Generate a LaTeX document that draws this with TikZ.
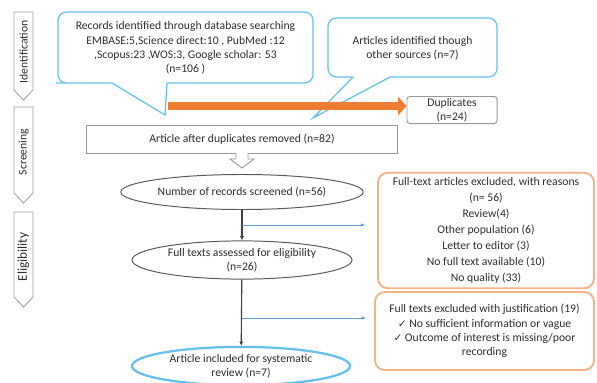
\documentclass[tikz,border=0pt]{standalone}
\usepackage{fontspec}
\setmainfont{Carlito}
\newfontfamily\symfont{DejaVu Sans}
\usetikzlibrary{arrows.meta,shapes.geometric}
\definecolor{calloutblue}{RGB}{100,192,236}
\definecolor{dupsorange}{RGB}{237,125,49}
\definecolor{exclorange}{RGB}{244,177,131}
\definecolor{linkblue}{RGB}{91,155,213}
\definecolor{txtgray}{RGB}{45,45,45}
\newcommand{\tick}{{\symfont\fontsize{7.5}{9}\selectfont\char"2713}}
\begin{document}
\begin{tikzpicture}[x=0.025cm,y=-0.025cm,
  font=\fontsize{8.3}{10.3}\selectfont, text=txtgray,
  phase/.style={draw=gray!75,fill=white,line width=0.6pt},
  oval/.style={ellipse,draw=black!65,line width=0.7pt,minimum width=5.5cm,minimum height=0.9cm,align=center,inner sep=1pt},
  excl/.style={draw=exclorange,line width=1.3pt,rounded corners=7pt,align=center},
  flow/.style={-{Latex[length=3pt,width=3pt]},line width=0.8pt,draw=black!75},
  aside/.style={-{Latex[length=3pt,width=2.5pt]},draw=linkblue,line width=0.5pt}]

\useasboundingbox (0,0) rectangle (597,382);

\draw[phase] (14,12) -- (33,12) -- (33,90) -- (23.5,100) -- (14,90) -- cycle;
\draw[phase] (14,107) -- (33,107) -- (33,193) -- (23.5,203) -- (14,193) -- cycle;
\draw[phase] (14,212) -- (33,212) -- (33,297) -- (23.5,307) -- (14,297) -- cycle;
\node[rotate=90] (ident) at (23.5,52) {Identification};
\node[rotate=90] (screen) at (23.5,152) {Screening};
\node[rotate=90,font=\fontsize{9.5}{11}\selectfont] (elig) at (23.5,257) {Eligibility};

\draw[calloutblue,line width=0.9pt,rounded corners=6pt]
  (112,83) -- (64,83) -- (58,83) -- (58,12) -- (313,12) -- (313,83) -- (167,83);
\draw[calloutblue,line width=0.9pt] (112,83) -- (165,115) -- (167,83);
\draw[calloutblue,line width=0.9pt,rounded corners=6pt]
  (353,77) -- (328,77) -- (328,18) -- (497,18) -- (497,77) -- (390,77);
\draw[calloutblue,line width=0.9pt] (353,77) -- (313,118) -- (390,77);

\node[align=center] (rec) at (185.5,48) {Records identified through database searching\\EMBASE:5,Science direct:10 , PubMed :12\\,Scopus:23 ,WOS:3, Google scholar: 53\\(n=106 )};
\node[align=center] (other) at (412.5,48) {Articles identified though\\other sources (n=7)};

\node[draw=gray!80,line width=0.7pt,rounded corners=2pt,minimum width=2.25cm,minimum height=0.65cm,align=center,inner sep=1pt] (dup) at (452,110) {Duplicates\\(n=24)};
\coordinate (split) at (168,106);
\draw[dupsorange,line width=5.5pt,-{Triangle[length=6pt,width=13pt]}] (split) -- (split -| dup.west);

\node[draw=gray!80,line width=0.7pt,minimum width=7.75cm,minimum height=0.7cm] (dedup) at (242,139) {Article after duplicates removed (n=82)};
\draw[gray!80,line width=0.7pt,fill=white] (236,153) -- (236,159) -- (230,159) -- (242,168) -- (254,159) -- (248,159) -- (248,153);

\node[oval,minimum height=0.875cm] (screened) at (242,192) {Number of records screened (n=56)};
\node[oval,minimum height=0.95cm] (assessed) at (242,260) {Full texts assessed for eligibility\\(n=26)};
\node[oval,draw=calloutblue,line width=1.6pt,minimum width=5.45cm,minimum height=0.88cm] (incl) at (241,366) {Article included for systematic\\review (n=7)};

\node[excl,minimum width=5.4cm,minimum height=2.875cm,font=\fontsize{8.3}{11.4}\selectfont] (excl1) at (486,230.5) {Full-text articles excluded, with reasons\\(n= 56)\\Review(4)\\Other population (6)\\Letter to editor (3)\\No full text available (10)\\No quality (33)};
\node[excl,minimum width=5.475cm,minimum height=1.95cm] (excl2) at (484.5,331) {Full texts excluded with justification (19)\\\tick{} No sufficient information or vague\\\tick{} Outcome of interest is missing/poor\\recording};

\draw[flow] (screened) -- (assessed);
\draw[flow] (assessed) -- (incl);
\coordinate (b1) at (242,225);
\coordinate (b2) at (242,318);
\draw[aside,shorten >=0.3cm] (b1) -- (b1 -| excl1.west);
\draw[aside,shorten >=0.2cm] (b2) -- (b2 -| excl2.west);
\end{tikzpicture}
\end{document}
